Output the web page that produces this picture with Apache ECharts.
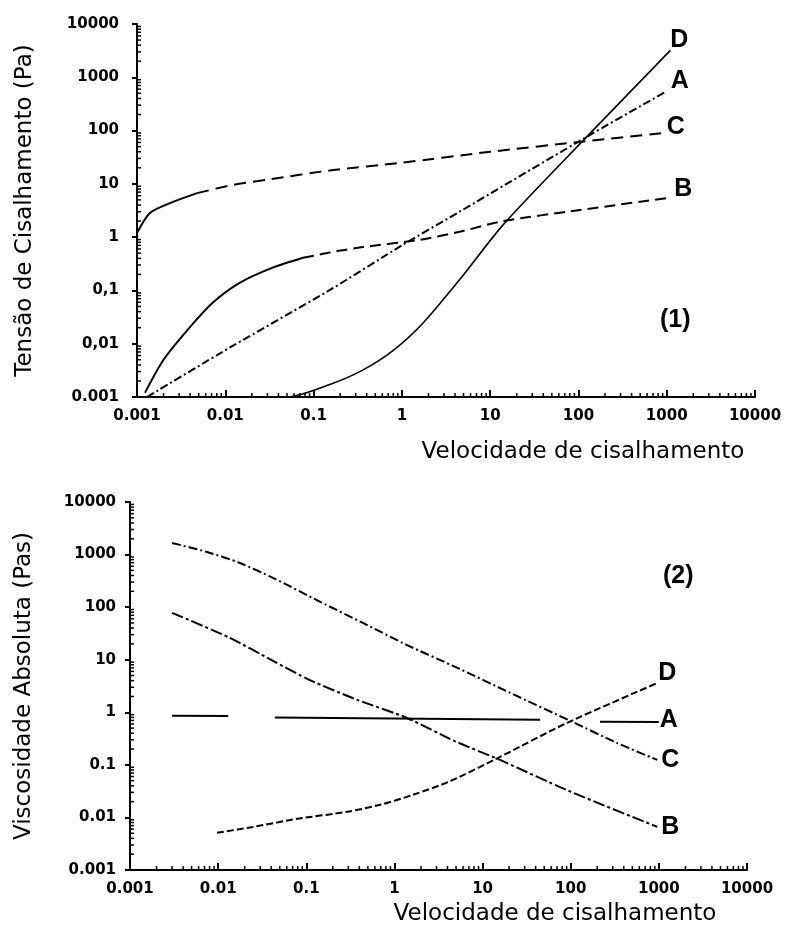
<!DOCTYPE html>
<html><head><meta charset="utf-8">
<script src="https://cdn.jsdelivr.net/npm/echarts@6/dist/echarts.min.js"></script>
<style>html,body{margin:0;padding:0;background:#fff}#c{width:787px;height:935px}</style>
</head><body><div id="c"></div>
<script>
// ---- tick labels ----
const xTickLabels = ['0.001','0.01','0.1','1','10','100','1000','10000'];
const yTickLabelsTop = ['0.001','0,01','0,1','1','10','100','1000','10000'];
const yTickLabelsBottom = ['0.001','0.01','0.1','1','10','100','1000','10000'];
const decades = [-3,-2,-1,0,1,2,3];

// ---- chart (1): shear stress (Pa) vs shear rate ----
const top_A = [[0.0013,0.001],[0.0113,0.0085],[0.15,0.1],[1,0.7],[4.5,3],[100,62],[1000,550]];
const top_B_solid = [[0.00123,0.0012],[0.002,0.005],[0.004,0.0207],[0.0073,0.06],[0.0147,0.14],[0.035,0.27],[0.076,0.41]];
const top_B_dash = [[0.076,0.41],[0.2,0.56],[0.36,0.65],[1.6,0.89],[4.5,1.26],[14,2.0],[100,3.2],[1100,5.5]];
const top_C_solid = [[0.001,1.2],[0.0014,2.85],[0.0024,4.4],[0.0048,6.7]];
const top_C_dash = [[0.0048,6.7],[0.012,9.5],[0.03,12],[0.16,18],[1,25],[10,40],[110,62],[900,90]];
const top_D = [[0.002,0.001],[0.05,0.001],[0.15,0.0017],[0.36,0.0032],[0.8,0.0075],[1.74,0.0245],[4.5,0.158],[14,1.7],[110,62],[1100,3200]];

// ---- chart (2): absolute viscosity (Pas) vs shear rate ----
const bot_A = [[0.003,0.86],[0.013,0.85],[0.02,'-'],[0.044,0.8],[45,0.72],[100,'-'],[215,0.66],[1000,0.65]];
const bot_B = [[0.003,78],[0.0136,26],[0.042,9.5],[0.11,4.1],[0.38,1.72],[1.39,0.78],[4.9,0.28],[15.8,0.124],[91,0.033],[960,0.0066]];
const bot_C = [[0.003,1660],[0.0075,1120],[0.0177,690],[0.042,359],[0.144,126],[0.44,50],[1.39,19],[4.9,7.3],[20.6,2.34],[104,0.66],[337,0.26],[960,0.124]];
const bot_D = [[0.0097,0.0051],[0.025,0.0066],[0.079,0.0094],[0.29,0.0128],[0.69,0.0174],[1.63,0.027],[4.3,0.049],[15.8,0.142],[91,0.63],[960,3.6]];

const tickFont = {fontFamily:'DejaVu Sans', fontWeight:'bold', fontSize:15, color:'#000'};
const tagFont = {fontFamily:'Liberation Sans Narrow, Liberation Sans, sans-serif', fontWeight:'bold', fontSize:25, color:'#000'};
const titleFont = '23px "DejaVu Sans"';
const idx = v => Math.round(Math.log10(v)) + 3;

function xAxisCfg(gi){
  return {type:'log', logBase:10, gridIndex:gi, min:0.001, max:10000, splitNumber:7,
    axisLine:{lineStyle:{color:'#000', width:2}},
    axisTick:{inside:true, length:7, lineStyle:{color:'#000', width:2}},
    axisLabel:{...tickFont, margin:12, formatter:v=>xTickLabels[idx(v)]},
    splitLine:{show:false}, minorTick:{show:false}};
}
function yAxisCfg(gi, labels, name, gap, margin){
  return {type:'log', logBase:10, gridIndex:gi, min:0.001, max:10000, splitNumber:7,
    name:name, nameLocation:'middle', nameGap:gap, nameRotate:90,
    nameTextStyle:{fontFamily:'DejaVu Sans', fontSize:23, color:'#000'},
    axisLine:{lineStyle:{color:'#000', width:2}},
    axisTick:{inside:false, length:5, lineStyle:{color:'#000', width:2}},
    axisLabel:{...tickFont, margin:margin, formatter:v=>labels[idx(v)]},
    splitLine:{show:false}};
}
function minorTicks(gi){
  return {type:'custom', xAxisIndex:gi, yAxisIndex:gi, silent:true, data:[[0.001,0.001]],
    renderItem:function(params, api){
      const ch=[];
      decades.forEach(d=>{
        for(let m=2;m<=9;m++){
          const v=m*Math.pow(10,d);
          const px=api.coord([v,0.001]);
          ch.push({type:'line', shape:{x1:px[0],y1:px[1],x2:px[0],y2:px[1]-4}, style:{stroke:'#000', lineWidth:1.5}});
          const py=api.coord([0.001,v]);
          ch.push({type:'line', shape:{x1:py[0],y1:py[1],x2:py[0]+4,y2:py[1]}, style:{stroke:'#000', lineWidth:1.5}});
        }
      });
      return {type:'group', children:ch};
    }};
}
function line(gi, name, data, type, width, label, offset){
  const s = {type:'line', name:name, xAxisIndex:gi, yAxisIndex:gi, data:data, showSymbol:false, symbol:'none',
    smooth:0.25, connectNulls:false, silent:true, animation:false,
    lineStyle:{color:'#000', width:width, type:type}};
  if(label){ s.endLabel = {show:true, formatter:label, offset:offset, distance:4, ...tagFont}; }
  return s;
}

const chart = echarts.init(document.getElementById('c'));
chart.setOption({
  animation:false,
  backgroundColor:'#fff',
  grid:[
    {left:137, top:24, width:618, height:373},
    {left:130, top:502, width:617, height:368}
  ],
  xAxis:[xAxisCfg(0), xAxisCfg(1)],
  yAxis:[
    yAxisCfg(0, yTickLabelsTop, 'Tensão de Cisalhamento (Pa)', 100, 18),
    yAxisCfg(1, yTickLabelsBottom, 'Viscosidade Absoluta (Pas)', 94, 14)
  ],
  series:[
    minorTicks(0), minorTicks(1),
    line(0,'A',top_A,[8,3,2,3],2,'A',[0,-10]),
    line(0,'B1',top_B_solid,'solid',2),
    line(0,'B',top_B_dash,[11,6],2,'B',[0,-9]),
    line(0,'C1',top_C_solid,'solid',2),
    line(0,'C',top_C_dash,[12,7],2,'C',[0,-6]),
    line(0,'D',top_D,'solid',1.6,'D',[-4,-10]),
    line(1,'A',bot_A,'solid',2,'A',[-3,-2]),
    line(1,'B',bot_B,[12,3,3,3],2,'B',[0,0]),
    line(1,'C',bot_C,[9,3,2,3],2,'C',[0,0]),
    line(1,'D',bot_D,[7,3],2,'D',[-3,-10])
  ],
  graphic:[
    {type:'text', x:583, y:452, style:{text:'Velocidade de cisalhamento', font:titleFont, fill:'#000', align:'center', verticalAlign:'middle'}},
    {type:'text', x:555, y:914, style:{text:'Velocidade de cisalhamento', font:titleFont, fill:'#000', align:'center', verticalAlign:'middle'}},
    {type:'text', x:660, y:308, style:{text:'(1)', font:'bold 25px "Liberation Sans Narrow", "Liberation Sans"', fill:'#000'}},
    {type:'text', x:663, y:564, style:{text:'(2)', font:'bold 25px "Liberation Sans Narrow", "Liberation Sans"', fill:'#000'}}
  ]
});
</script></body></html>
